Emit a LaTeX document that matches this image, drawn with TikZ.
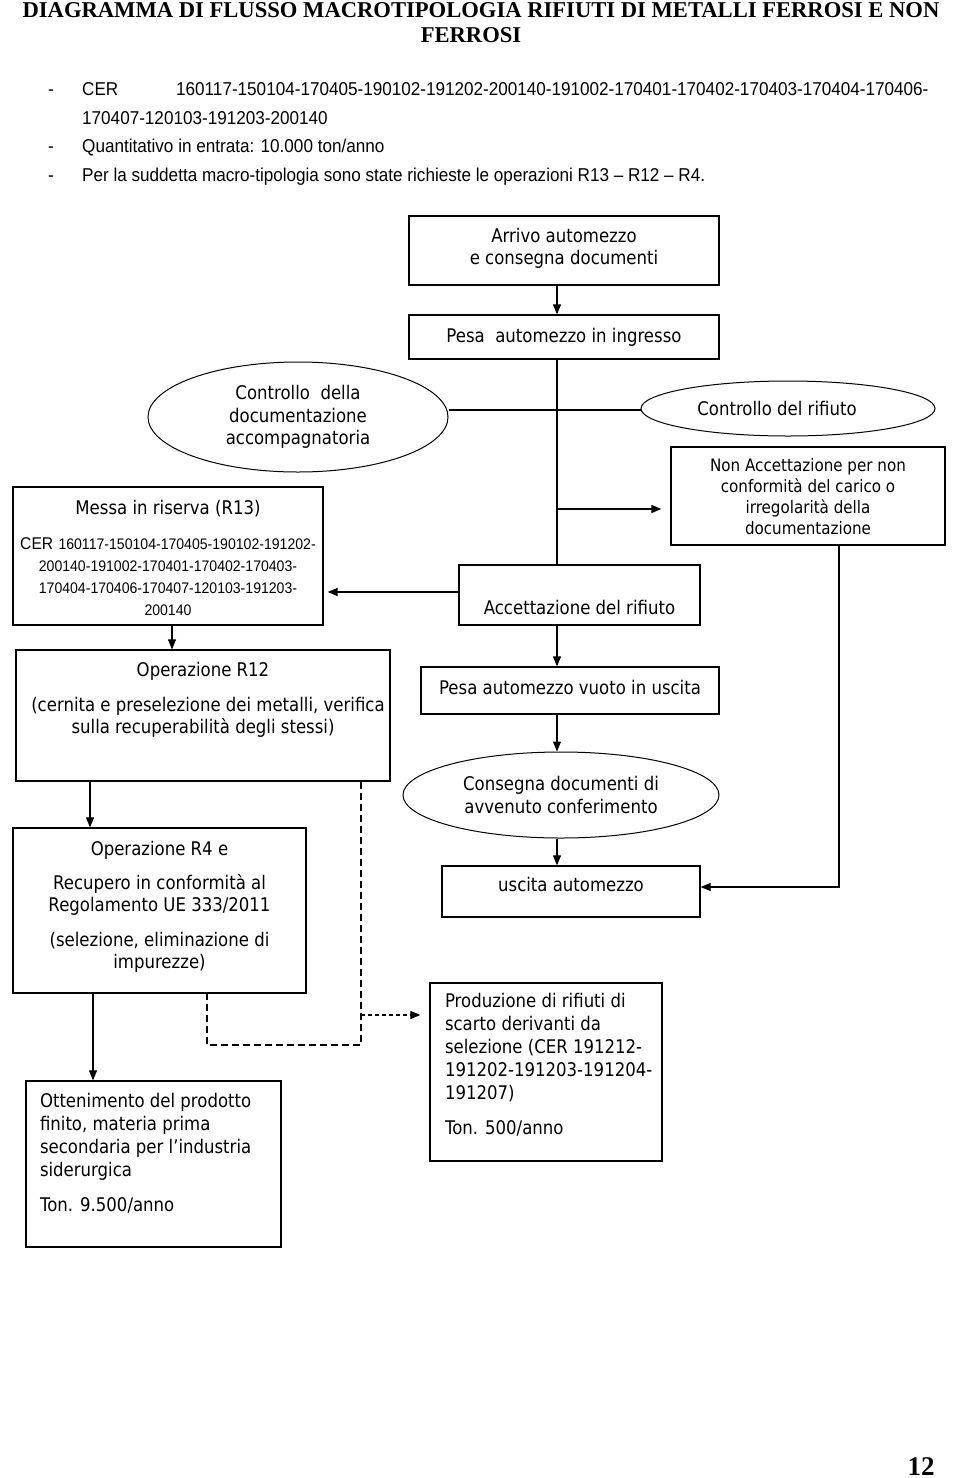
\documentclass[tikz,border=0pt]{standalone}
\usepackage{fontspec}
\usetikzlibrary{shapes.geometric,arrows.meta}
\newfontfamily\tah{DejaVu Sans}[FakeStretch=0.88]
\newfontfamily\arn{Liberation Sans}[FakeStretch=0.92]
\newfontfamily\tnr{Liberation Serif}
\newcommand{\bxt}[5]{\begin{minipage}[c][#1pt][t]{#2pt}#4\rule{0pt}{#3pt}#5\end{minipage}}
\begin{document}
\begin{tikzpicture}[x=1pt,y=-1pt,
  box/.style={draw, line width=1.3pt, inner sep=0pt, rectangle, font=\tah\fontsize{18.8}{22}\selectfont},
  ell/.style={draw, ellipse, line width=1pt, inner sep=0pt, align=center, font=\tah\fontsize{18.8}{22.5}\selectfont},
  ln/.style={line width=1.1pt},
  arr/.style={ln, -{Triangle[length=10pt,width=8pt]}},
  dashln/.style={line width=1.1pt, dash pattern=on 7pt off 4pt},
  dotarrow/.style={line width=1.1pt, dash pattern=on 4pt off 3pt, -{Triangle[length=10pt,width=8pt]}},
  bul/.style={anchor=base west, inner sep=0pt, font=\arn\fontsize{18.6}{22}\selectfont},
  ttl/.style={anchor=base, inner sep=0pt, font=\tnr\bfseries\fontsize{22.6}{25}\selectfont}]
\useasboundingbox (0,0) rectangle (960,1478);

% title
\node[ttl] (t1) at (481,17.5) {DIAGRAMMA DI FLUSSO MACROTIPOLOGIA RIFIUTI DI METALLI FERROSI E NON};
\node[ttl] (t2) at (471,42.5) {FERROSI};

% bullets
\node[bul] (d1) at (48,95.5) {-};
\node[bul] (b1a) at (82,95.5) {CER};
\node[bul] (b1b) at (176,95.5) {160117-150104-170405-190102-191202-200140-191002-170401-170402-170403-170404-170406-};
\node[bul] (b1c) at (82,124.5) {170407-120103-191203-200140};
\node[bul] (d2) at (48,152.5) {-};
\node[bul] (b2) at (82,152.5) {Quantitativo in entrata: 10.000 ton/anno};
\node[bul] (d3) at (48,181.5) {-};
\node[bul] (b3) at (82,181.5) {Per la suddetta macro-tipologia sono state richieste le operazioni R13 – R12 – R4.};

% boxes
\node[box] (A) at (564,250.5) {\bxt{69}{310}{26}{\centering}{Arrivo automezzo\\e consegna documenti}};
\node[box] (B) at (564,337) {\bxt{44}{310}{27}{\centering}{Pesa\ \ automezzo in ingresso}};
\node[ell, minimum width=300pt, minimum height=110pt] (C) at (298,417) {Controllo\ \ della\\documentazione\\accompagnatoria};
\node[ell, minimum width=294pt, minimum height=55pt] (D) at (788,408.5) {Controllo del rifiuto\hspace*{22pt}};
\node[box, font=\tah\fontsize{17.2}{21}\selectfont] (E) at (808,496) {\bxt{98}{274}{24}{\centering}{Non Accettazione per non\\conformità del carico o\\irregolarità della\\documentazione}};
\node[box] (F) at (168,556) {\bxt{138}{310}{27}{\centering}{Messa in riserva (R13)\\[13pt]{\arn\fontsize{17}{22}\selectfont CER} {\arn\fontsize{15.3}{22}\selectfont 160117-150104-170405-190102-191202-\\200140-191002-170401-170402-170403-\\170404-170406-170407-120103-191203-\\200140}}};
\node[box] (G) at (579.5,595) {\bxt{60}{241}{49}{\centering}{Accettazione del rifiuto}};
\node[box] (H) at (203,715.5) {\bxt{131}{374}{26}{\centering}{Operazione R12\\[13pt]\hspace*{10pt}(cernita e preselezione dei metalli, verifica\\sulla recuperabilità degli stessi)}};
\node[box] (I) at (570,690.5) {\bxt{47}{298}{27}{\centering}{Pesa automezzo vuoto in uscita}};
\node[ell, minimum width=316pt, minimum height=86pt] (J) at (561,795) {Consegna documenti di\\avvenuto conferimento};
\node[box] (K) at (571,891.5) {\bxt{51}{258}{25}{\centering}{uscita automezzo}};
\node[box] (L) at (159.5,910.5) {\bxt{165}{293}{27}{\centering}{Operazione R4 e\\[12pt]Recupero in conformità al\\Regolamento UE 333/2011\\[13pt](selezione, eliminazione di\\impurezze)}};
\node[box, font=\tah\fontsize{18.8}{23}\selectfont] (M) at (546,1072) {\bxt{178}{232}{24}{\raggedright\leftskip=15pt\rightskip=0pt plus 1fil}{Produzione di rifiuti di\\scarto derivanti da\\selezione (CER 191212-\\191202-191203-191204-\\191207)\\[12pt]Ton. 500/anno}};
\node[box, font=\tah\fontsize{18.8}{23}\selectfont] (N) at (153.5,1164) {\bxt{166}{255}{26}{\raggedright\leftskip=14pt\rightskip=0pt plus 1fil}{Ottenimento del prodotto\\finito, materia prima\\secondaria per l’industria\\siderurgica\\[12pt]Ton. 9.500/anno}};

% page number
\node[anchor=base, inner sep=0pt, font=\tnr\bfseries\fontsize{27}{30}\selectfont] (pg) at (921,1475) {12};

% connectors
\coordinate (vx) at (557,0);
\coordinate (hy) at (0,410);
\coordinate (ay) at (0,509);
\coordinate (gy) at (0,592);
\coordinate (fx) at (172,0);
\coordinate (ex) at (839,0);
\coordinate (ky) at (0,887);
\coordinate (hx) at (90,0);
\coordinate (lx) at (93,0);
\coordinate (dx) at (361,0);
\coordinate (dy) at (0,1045);
\coordinate (rx) at (207,0);
\coordinate (my) at (0,1015);

\draw[arr] (A.south -| vx) -- (B.north -| vx);
\draw[ln] (B.south -| vx) -- (G.north -| vx);
\draw[ln] (C.east |- hy) -- (D.west |- hy);
\draw[arr, shorten >=9pt] (vx |- ay) -- (E.west |- ay);
\draw[arr, shorten >=4pt] (G.west |- gy) -- (F.east |- gy);
\draw[arr] (F.south -| fx) -- (H.north -| fx);
\draw[arr] (G.south -| vx) -- (I.north -| vx);
\draw[arr] (I.south -| vx) -- (J.north -| vx);
\draw[arr] (J.south -| vx) -- (K.north -| vx);
\draw[arr] (E.south -| ex) -- (ex |- ky) -- (K.east |- ky);
\draw[arr] (H.south -| hx) -- (L.north -| hx);
\draw[arr] (L.south -| lx) -- (N.north -| lx);
\draw[dashln] (H.south -| dx) -- (dx |- dy) -- (rx |- dy) -- (L.south -| rx);
\draw[dotarrow, shorten >=9pt] (dx |- my) -- (M.west |- my);
\end{tikzpicture}
\end{document}
